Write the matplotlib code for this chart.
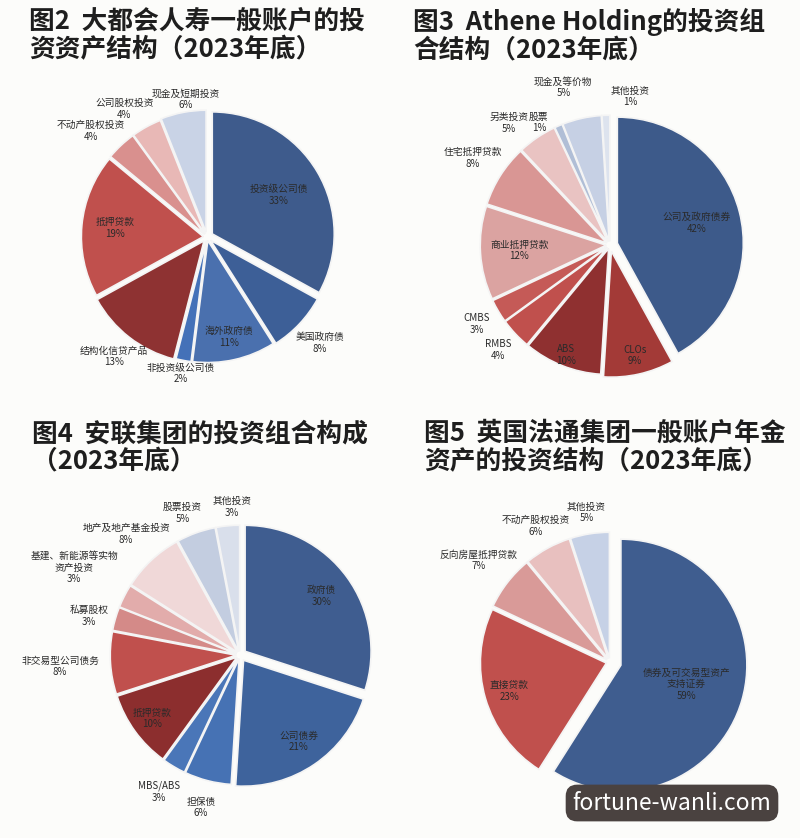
import numpy as np
import matplotlib
matplotlib.use("Agg")
import matplotlib.pyplot as plt

plt.rcParams['font.family'] = ['Noto Sans CJK SC', 'DejaVu Sans']

# ---- data ----
labels2 = ["投资级公司债", "美国政府债", "海外政府债", "非投资级公司债", "结构化信贷产品",
           "抵押贷款", "不动产股权投资", "公司股权投资", "现金及短期投资"]
values2 = [33, 8, 11, 2, 13, 19, 4, 4, 6]

labels3 = ["公司及政府债券", "CLOs", "ABS", "RMBS", "CMBS", "商业抵押贷款",
           "住宅抵押贷款", "另类投资", "股票", "现金及等价物", "其他投资"]
values3 = [42, 9, 10, 4, 3, 12, 8, 5, 1, 5, 1]

labels4 = ["政府债", "公司债券", "担保债", "MBS/ABS", "抵押贷款", "非交易型公司债务",
           "私募股权", "基建、新能源等实物\n资产投资", "地产及地产基金投资", "股票投资", "其他投资"]
values4 = [30, 21, 6, 3, 10, 8, 3, 3, 8, 5, 3]

labels5 = ["债券及可交易型资产\n支持证券", "直接贷款", "反向房屋抵押贷款", "不动产股权投资", "其他投资"]
values5 = [59, 23, 7, 6, 5]

titles = ["图2  大都会人寿一般账户的投\n资资产结构（2023年底）",
          "图3  Athene Holding的投资组\n合结构（2023年底）",
          "图4  安联集团的投资组合构成\n（2023年底）",
          "图5  英国法通集团一般账户年金\n资产的投资结构（2023年底）"]

# ---- styles ----
colors2 = ["#3e5b8c", "#3d5f97", "#4a70ae", "#4471b8", "#8e3232", "#c0504d",
           "#d9908e", "#e8b8b6", "#c9d3e6"]
colors3 = ["#3d5a8a", "#a33a37", "#8f3030", "#c0504d", "#c55a57", "#dba3a1",
           "#d99694", "#e9c3c2", "#b0bed6", "#c6d0e4", "#dde3ee"]
colors4 = ["#3f5d90", "#3e639c", "#4672b4", "#4a76b8", "#8c2e2e", "#c0504d",
           "#d48a88", "#e2acab", "#f0d8d8", "#c3cde0", "#d9dfeb"]
colors5 = ["#3f5d8f", "#c0504d", "#d99a98", "#e8c0bf", "#c6d1e6"]

explode2 = [0.05, 0.04, 0.03, 0.03, 0.04, 0.03, 0.03, 0.03, 0.04]
explode3 = [0.06, 0.05, 0.03, 0.03, 0.03, 0.03, 0.03, 0.03, 0.03, 0.03, 0.03]
explode4 = [0.05, 0.05, 0.03, 0.03, 0.03, 0.03, 0.03, 0.03, 0.03, 0.03, 0.03]
explode5 = [0.09, 0.03, 0.03, 0.03, 0.03]

# label distance from centre (in radii) and small nudges to avoid clashes
dist2 = [0.68, 1.27, 0.84, 1.14, 1.24, 0.76, 1.3, 1.2, 1.15]
dist3 = [0.71, 0.9, 0.94, 1.22, 1.23, 0.72, 1.29, 1.22, 1.17, 1.24, 1.18]
dist4 = [0.8, 0.83, 1.25, 1.26, 0.86, 1.43, 1.25, 1.42, 1.32, 1.2, 1.18]
dist5 = [0.63, 0.83, 1.32, 1.23, 1.2]
nudge2 = {6: (-0.06, -0.08), 7: (-0.1, 0.0), 8: (0.04, 0.0)}
nudge3 = {7: (-0.12, -0.04), 8: (-0.1, -0.1), 9: (-0.1, 0.04), 10: (0.2, 0.0)}
nudge4 = {6: (0.0, -0.04), 7: (-0.05, 0.05), 9: (-0.05, 0.0), 10: (0.05, 0.0)}
nudge5 = {}

W, H = 800, 838
BG = "#fcfcfa"
fig = plt.figure(figsize=(W / 100, H / 100), dpi=100, facecolor=BG)


def pie_axes(cx, cy, r, lim=1.6):
    ax = fig.add_axes([(cx - lim * r) / W, (H - cy - lim * r) / H,
                       2 * lim * r / W, 2 * lim * r / H])
    ax.axis("off")
    ax.patch.set_alpha(0)
    return ax


def draw_pie(ax, values, labels, colors, explode, dists, nudge):
    wedges, _ = ax.pie(values, colors=colors, explode=explode, startangle=90,
                       counterclock=False, radius=1,
                       wedgeprops=dict(edgecolor="#f4f4f4", linewidth=1.2))
    ax.set_xlim(-1.6, 1.6)
    ax.set_ylim(-1.6, 1.6)
    for i, (w, lab, v, d) in enumerate(zip(wedges, labels, values, dists)):
        ang = np.deg2rad((w.theta1 + w.theta2) / 2)
        dx, dy = nudge.get(i, (0, 0))
        ax.text(d * np.cos(ang) + dx, d * np.sin(ang) + dy, f"{lab}\n{v}%",
                ha="center", va="center", fontsize=7.0, color="#2a2a2a",
                linespacing=1.2)


draw_pie(pie_axes(207, 237, 122), values2, labels2, colors2, explode2, dist2, nudge2)
draw_pie(pie_axes(610, 245, 126), values3, labels3, colors3, explode3, dist3, nudge3)
draw_pie(pie_axes(240, 655, 126), values4, labels4, colors4, explode4, dist4, nudge4)
draw_pie(pie_axes(610, 662, 126), values5, labels5, colors5, explode5, dist5, nudge5)

# titles
title_pos = [(29, 8), (413, 8), (32, 420), (424, 420)]
for (x, y), t in zip(title_pos, titles):
    fig.text(x / W, 1 - y / H, t, ha="left", va="top", fontsize=18.5,
             fontweight="bold", color="#1e1e1e", linespacing=1.08)

# watermark
fig.text(672 / W, 1 - 803 / H, "fortune-wanli.com", ha="center", va="center",
         fontsize=16.5, color="white",
         bbox=dict(boxstyle="round,pad=0.3,rounding_size=0.5",
                   facecolor="#4a4240", edgecolor="none"))

fig.savefig("out.png", dpi=100, facecolor=BG)
